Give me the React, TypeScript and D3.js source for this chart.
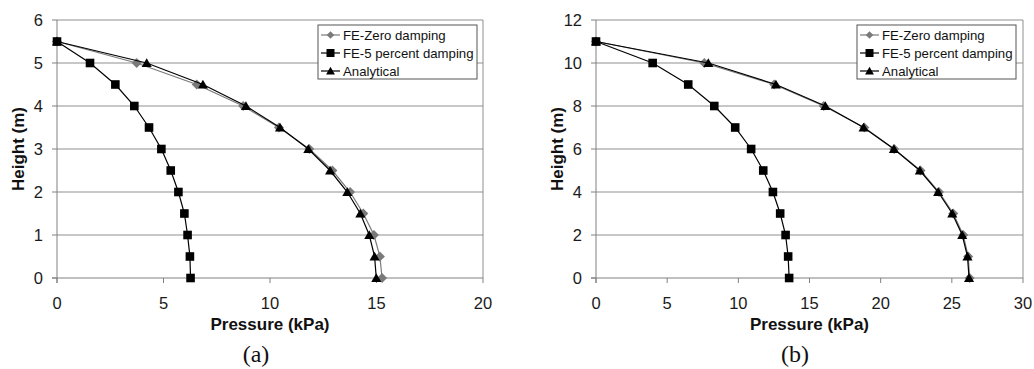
import React from "react";
import * as d3 from "d3";

const seriesNames = ["FE-Zero damping", "FE-5 percent damping", "Analytical"];

const heightsA = [5.5, 5, 4.5, 4, 3.5, 3, 2.5, 2, 1.5, 1, 0.5, 0];
const zeroA = [0, 3.74, 6.56, 8.74, 10.42, 11.85, 12.93, 13.76, 14.38, 14.88, 15.16, 15.26];
const fe5A = [0, 1.55, 2.74, 3.63, 4.32, 4.9, 5.34, 5.7, 5.98, 6.13, 6.24, 6.27];
const analyticalA = [0, 4.21, 6.85, 8.87, 10.47, 11.8, 12.82, 13.63, 14.24, 14.66, 14.91, 14.99];
const xTicksA = [0, 5, 10, 15, 20];
const yTicksA = [0, 1, 2, 3, 4, 5, 6];

const heightsB = [11, 10, 9, 8, 7, 6, 5, 4, 3, 2, 1, 0];
const zeroB = [0, 7.61, 12.52, 16.0, 18.85, 20.95, 22.8, 24.1, 25.1, 25.8, 26.15, 26.25];
const fe5B = [0, 3.98, 6.48, 8.31, 9.78, 10.9, 11.75, 12.43, 12.94, 13.32, 13.5, 13.57];
const analyticalB = [0, 7.89, 12.64, 16.11, 18.8, 20.93, 22.75, 24.04, 25.03, 25.73, 26.1, 26.21];
const xTicksB = [0, 5, 10, 15, 20, 25, 30];
const yTicksB = [0, 2, 4, 6, 8, 10, 12];

const AXIS = "#808080";
const GRID = "#8f8f8f";
const GRAYSERIES = "#7a7a7a";
const SANS = "'Liberation Sans', Arial, sans-serif";

type Marker = "diamond" | "square" | "triangle";

function markerPath(kind: Marker, s: number) {
  if (kind === "diamond") return `M0,${-s}L${s},0L0,${s}L${-s},0Z`;
  if (kind === "square") return `M${-s},${-s}H${s}V${s}H${-s}Z`;
  return `M0,${-s * 1.05}L${s * 1.1},${s * 0.85}L${-s * 1.1},${s * 0.85}Z`;
}

interface PanelProps {
  x0: number; x1: number; y0: number; y1: number;
  xMax: number; yMax: number;
  xTicks: number[]; yTicks: number[];
  heights: number[];
  series: number[][];
  label: string;
  labelX: number;
  yTitleX: number;
  legendX: number;
}

function Panel(p: PanelProps) {
  const x = d3.scaleLinear().domain([0, p.xMax]).range([p.x0, p.x1]);
  const y = d3.scaleLinear().domain([0, p.yMax]).range([p.y1, p.y0]);
  const styles = [
    { color: GRAYSERIES, marker: "diamond" as Marker, size: 5 },
    { color: "#000", marker: "square" as Marker, size: 4.3 },
    { color: "#000", marker: "triangle" as Marker, size: 4.6 },
  ];
  const line = d3.line<[number, number]>().x((d) => x(d[0])).y((d) => y(d[1]));
  const cx = (p.x0 + p.x1) / 2;
  const cy = (p.y0 + p.y1) / 2;
  const lx = p.legendX;
  return (
    <g>
      {p.yTicks.filter((t) => t !== 0).map((t) => (
        <line key={"g" + t} x1={p.x0} x2={p.x1} y1={y(t)} y2={y(t)} stroke={GRID} strokeWidth={1} />
      ))}
      <line x1={p.x1} x2={p.x1} y1={p.y0} y2={p.y1} stroke={GRID} strokeWidth={1} />
      <line x1={p.x0} x2={p.x0} y1={p.y0} y2={p.y1 + 5} stroke={AXIS} strokeWidth={1} />
      <line x1={p.x0 - 5} x2={p.x1} y1={p.y1} y2={p.y1} stroke={AXIS} strokeWidth={1} />
      {p.yTicks.map((t) => (
        <g key={"yt" + t}>
          <line x1={p.x0 - 5} x2={p.x0} y1={y(t)} y2={y(t)} stroke={AXIS} />
          <text x={p.x0 - 14} y={y(t)} dy="0.36em" textAnchor="end" fontFamily={SANS} fontSize={16.5} fill="#1a1a1a">{t}</text>
        </g>
      ))}
      {p.xTicks.map((t) => (
        <g key={"xt" + t}>
          <line x1={x(t)} x2={x(t)} y1={p.y1} y2={p.y1 + 5} stroke={AXIS} />
          <text x={x(t)} y={p.y1 + 31} textAnchor="middle" fontFamily={SANS} fontSize={16.5} fill="#1a1a1a">{t}</text>
        </g>
      ))}
      <text x={cx} y={p.y1 + 52} textAnchor="middle" fontFamily={SANS} fontWeight="bold" fontSize={17} fill="#111">Pressure (kPa)</text>
      <text transform={`translate(${p.yTitleX},${cy}) rotate(-90)`} textAnchor="middle" dy="0.36em" fontFamily={SANS} fontWeight="bold" fontSize={17} fill="#111">Height (m)</text>
      <text x={p.labelX} y={p.y1 + 84} textAnchor="middle" fontFamily="'Liberation Serif', 'DejaVu Serif', serif" fontSize={24} fill="#111">{p.label}</text>
      {p.series.map((vals, i) => {
        const pts: [number, number][] = vals.map((v, j) => [v, p.heights[j]]);
        const st = styles[i];
        return (
          <g key={"s" + i}>
            <path d={line(pts) || ""} fill="none" stroke={st.color} strokeWidth={1.2} />
            {pts.map((d, j) => (
              <path key={j} d={markerPath(st.marker, st.size)} transform={`translate(${x(d[0])},${y(d[1])})`} fill={st.color} />
            ))}
          </g>
        );
      })}
      <g>
        <rect x={lx} y={25} width={159} height={54} fill="#fff" stroke="#555" strokeWidth={1} />
        {seriesNames.map((n, i) => {
          const ry = 35 + i * 18;
          const st = styles[i];
          return (
            <g key={"l" + i}>
              <line x1={lx + 3} x2={lx + 22} y1={ry} y2={ry} stroke={st.color} strokeWidth={1.2} />
              <path d={markerPath(st.marker, i === 0 ? 3.8 : 4)} transform={`translate(${lx + 12.5},${ry})`} fill={st.color} />
              <text x={lx + 25} y={ry} dy="0.36em" fontFamily={SANS} fontSize={13.2} fill="#111">{n}</text>
            </g>
          );
        })}
      </g>
    </g>
  );
}

export default function App() {
  return (
    <svg width={1034} height={369} style={{ position: "absolute", left: 0, top: 0, background: "#fff" }}>
      <rect width={1034} height={369} fill="#fff" />
      <Panel x0={57} x1={483} y0={20} y1={278} xMax={20} yMax={6} xTicks={xTicksA} yTicks={yTicksA}
        heights={heightsA} series={[zeroA, fe5A, analyticalA]} label="(a)" labelX={256} yTitleX={18} legendX={318} />
      <Panel x0={596} x1={1023} y0={20} y1={278} xMax={30} yMax={12} xTicks={xTicksB} yTicks={yTicksB}
        heights={heightsB} series={[zeroB, fe5B, analyticalB]} label="(b)" labelX={795} yTitleX={557} legendX={857} />
    </svg>
  );
}
